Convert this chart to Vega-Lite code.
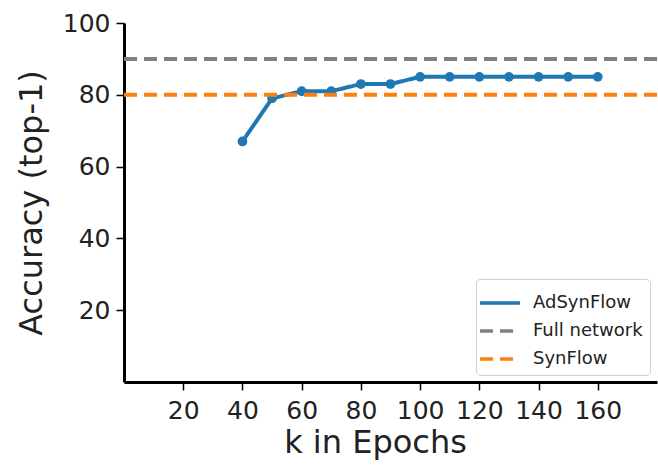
{
  "$schema": "https://vega.github.io/schema/vega-lite/v6.json",
  "width": 533,
  "height": 359,
  "autosize": {"type": "none"},
  "padding": {"left": 124, "top": 23, "right": 1, "bottom": 86},
  "background": "white",
  "config": {
    "view": {"stroke": null},
    "font": "DejaVu Sans",
    "axis": {
      "grid": false,
      "domainColor": "black",
      "domainWidth": 3,
      "tickColor": "black",
      "tickWidth": 1.5,
      "tickSize": 8,
      "labelFont": "DejaVu Sans",
      "labelFontSize": 25,
      "labelColor": "#222222",
      "titleFont": "DejaVu Sans",
      "titleFontSize": 32,
      "titleFontWeight": "normal",
      "titleColor": "#222222"
    },
    "legend": {
      "title": null,
      "orient": "bottom-right",
      "offset": 7,
      "symbolType": "M-1.33,0H1.33",
      "symbolSize": 900,
      "symbolStrokeWidth": 3.5,
      "labelFont": "DejaVu Sans",
      "labelFontSize": 18,
      "labelColor": "#222222",
      "labelOffset": 16,
      "rowPadding": 2,
      "padding": 7,
      "fillColor": "white",
      "strokeColor": "#d0d0d0",
      "cornerRadius": 4
    }
  },
  "datasets": {
    "curve": [
      {"series": "AdSynFlow", "k": 40, "acc": 67},
      {"series": "AdSynFlow", "k": 50, "acc": 79},
      {"series": "AdSynFlow", "k": 60, "acc": 81},
      {"series": "AdSynFlow", "k": 70, "acc": 81},
      {"series": "AdSynFlow", "k": 80, "acc": 83},
      {"series": "AdSynFlow", "k": 90, "acc": 83},
      {"series": "AdSynFlow", "k": 100, "acc": 85},
      {"series": "AdSynFlow", "k": 110, "acc": 85},
      {"series": "AdSynFlow", "k": 120, "acc": 85},
      {"series": "AdSynFlow", "k": 130, "acc": 85},
      {"series": "AdSynFlow", "k": 140, "acc": 85},
      {"series": "AdSynFlow", "k": 150, "acc": 85},
      {"series": "AdSynFlow", "k": 160, "acc": 85}
    ],
    "refs": [
      {"series": "Full network", "acc": 90},
      {"series": "SynFlow", "acc": 80}
    ]
  },
  "encoding": {
    "y": {
      "field": "acc",
      "type": "quantitative",
      "scale": {"domain": [0, 100], "nice": false},
      "axis": {"values": [20, 40, 60, 80, 100], "title": "Accuracy (top-1)", "titlePadding": 14, "labelPadding": 6}
    },
    "color": {
      "field": "series", "type": "nominal",
      "scale": {"domain": ["AdSynFlow", "Full network", "SynFlow"], "range": ["#1f77b4", "#7f7f7f", "#ff7f0e"]},
      "legend": {"values": ["AdSynFlow", "Full network", "SynFlow"]}
    },
    "strokeDash": {
      "field": "series", "type": "nominal",
      "scale": {"domain": ["AdSynFlow", "Full network", "SynFlow"], "range": [[1, 0], [13, 7], [13, 7]]},
      "legend": {"values": ["AdSynFlow", "Full network", "SynFlow"]}
    }
  },
  "layer": [
    {
      "data": {"name": "curve"},
      "mark": {"type": "line", "strokeWidth": 4},
      "encoding": {
        "x": {
          "field": "k", "type": "quantitative",
          "scale": {"domain": [0, 180], "nice": false},
          "axis": {"values": [20, 40, 60, 80, 100, 120, 140, 160], "title": "k in Epochs", "labelPadding": 8, "titlePadding": 4, "titleX": 251}
        }
      }
    },
    {
      "data": {"name": "curve"},
      "mark": {"type": "point", "filled": true, "opacity": 1, "size": 95, "color": "#1f77b4"},
      "encoding": {
        "x": {"field": "k", "type": "quantitative"},
        "color": {"value": "#1f77b4"},
        "strokeDash": {"value": [1, 0]}
      }
    },
    {
      "data": {"name": "refs"},
      "mark": {"type": "rule", "strokeWidth": 4},
      "encoding": {}
    }
  ]
}
